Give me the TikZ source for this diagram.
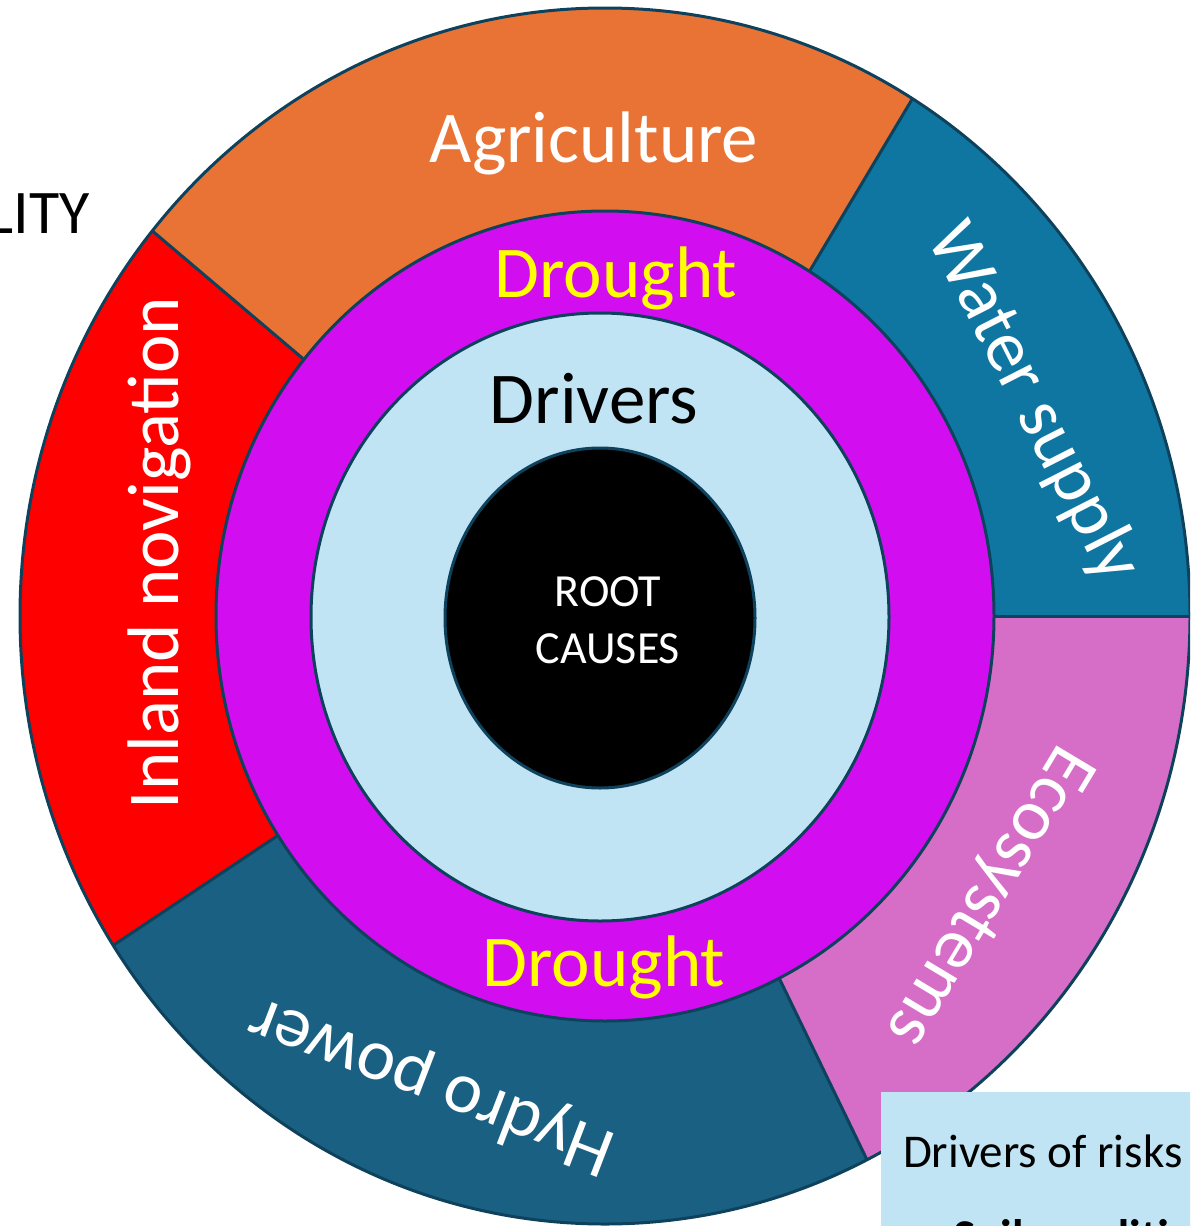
\documentclass[tikz,border=0pt]{standalone}
\usepackage{fontspec}
\setmainfont{Carlito}
\newfontfamily\symfont{DejaVu Sans}
\definecolor{agri}{RGB}{232,115,52}
\definecolor{water}{RGB}{14,118,160}
\definecolor{inland}{RGB}{255,0,0}
\definecolor{hydro}{RGB}{25,96,130}
\definecolor{eco}{RGB}{214,110,200}
\definecolor{drought}{RGB}{210,14,240}
\definecolor{lightb}{RGB}{192,228,244}
\definecolor{edge}{RGB}{14,66,92}
\definecolor{yel}{RGB}{255,255,0}
\begin{document}
\begin{tikzpicture}[x=0.5pt,y=0.5pt,
  ring/.style={draw=edge, line width=1.5pt},
  txt/.style={inner sep=0pt, outer sep=0pt},
  big/.style={txt, font=\fontsize{36.5}{44}\selectfont},
  mid/.style={txt, font=\fontsize{23}{28}\selectfont},
  leg/.style={txt, font=\fontsize{23.5}{28}\selectfont}]
\useasboundingbox (0,0) rectangle (1190,-1226);
\clip (0,0) rectangle (1190,-1226);
\coordinate (C) at (605,-616);
% outer ring segments
\foreach \a/\b/\col in {0/58.3/water, 58.3/140.7/agri, 140.7/212.8/inland, 212.8/296.6/hydro, 296.6/360/eco}{
  \fill[\col] (C) -- ++(\a:585 and 608) arc[start angle=\a, end angle=\b, x radius=585, y radius=608] -- cycle;
}
\draw[ring] (C) ellipse [x radius=585, y radius=608];
% dividers
\path (C) ++(0:389 and 405) coordinate (in1);
\path (C) ++(0:585 and 608) coordinate (out1);
\path (C) ++(58.3:389 and 405) coordinate (in2);
\path (C) ++(58.3:585 and 608) coordinate (out2);
\path (C) ++(140.7:389 and 405) coordinate (in3);
\path (C) ++(140.7:585 and 608) coordinate (out3);
\path (C) ++(212.8:389 and 405) coordinate (in4);
\path (C) ++(212.8:585 and 608) coordinate (out4);
\path (C) ++(296.6:389 and 405) coordinate (in5);
\path (C) ++(296.6:585 and 608) coordinate (out5);
\draw[ring] (in1) -- (out1);
\draw[ring] (in2) -- (out2);
\draw[ring] (in3) -- (out3);
\draw[ring] (in4) -- (out4);
\draw[ring] (in5) -- (out5);
% inner rings
\filldraw[ring, fill=drought] (C) ellipse [x radius=389, y radius=405];
\filldraw[ring, fill=lightb] (600,-617) ellipse [x radius=289, y radius=304];
\filldraw[ring, fill=black] (600,-618) ellipse [x radius=155, y radius=170];
% labels
\node[big, white, anchor=base] (agritxt) at (594,-162) {Agriculture};
\node[big, yel, anchor=base] (dr1) at (616,-297) {Drought};
\node[big, black, anchor=base] (drv) at (594,-423) {Drivers};
\node[big, yel, anchor=base] (dr2) at (604,-986) {Drought};
\node[mid, white, anchor=base] (root) at (608,-606) {ROOT};
\node[mid, white, anchor=base] (causes) at (608,-663) {CAUSES};
\node[big, white, rotate=90, anchor=base] (inl) at (178,-553) {Inland novigation};
\node[big, white, rotate=-63] (wat) at (1033,-403) {Water supply};
\node[big, white, rotate=159] (hyd) at (432,-1085) {Hydro power};
\node[big, white, rotate=-121] (ecotxt) at (988,-895) {Ecosystems};
% legend box
\fill[lightb] (881,-1092) rectangle (1200,-1240);
\node[leg, anchor=base west] (legtitle) at (903,-1167) {Drivers of risks};
\node[leg, anchor=base west, font=\bfseries\fontsize{23.5}{28}\selectfont] (legitem) at (903,-1252) {{\symfont ➢} Soil conditions};
\node[txt, anchor=base east, font=\fontsize{31}{37}\selectfont] (lity) at (90,-233) {LITY};
\end{tikzpicture}
\end{document}
